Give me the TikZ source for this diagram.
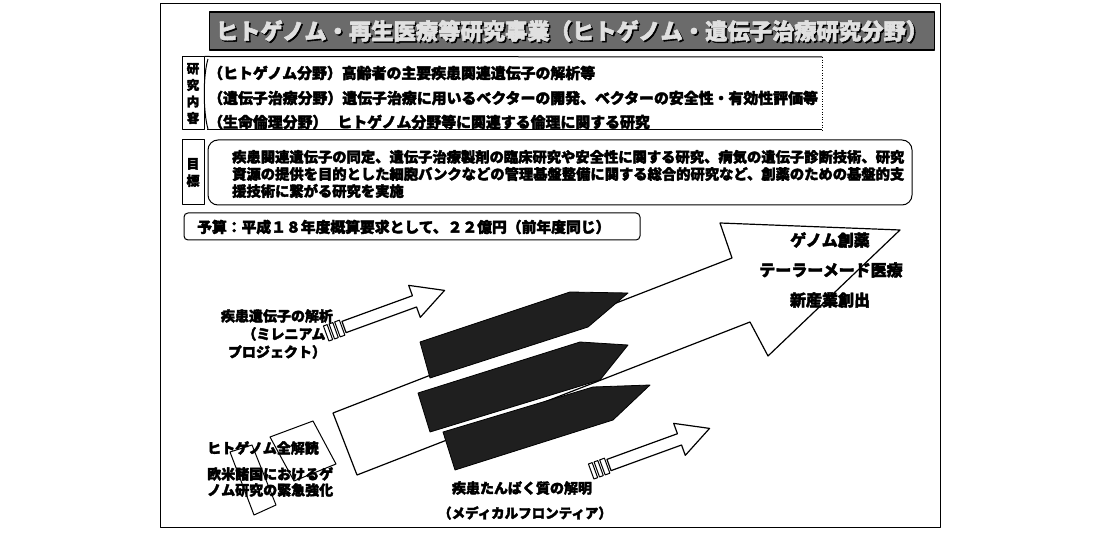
\documentclass[tikz,border=0pt]{standalone}
\usepackage{fontspec}
\newfontfamily\jp{Noto Sans CJK JP}[FakeBold=2.5]
\newcommand\JB{\jp\bfseries}
\begin{document}
\begin{tikzpicture}[x=1pt,y=-1pt,line join=round,
  txt/.style={font=\JB\fontsize{14.9}{16}\selectfont, inner sep=0, anchor=west},
  gtxt/.style={font=\JB\fontsize{14.3}{16}\selectfont, inner sep=0, anchor=west},
  lbl/.style={draw, line width=1, inner sep=0, align=center, minimum width=22pt},
  lab/.style={font=\JB\fontsize{14}{18}\selectfont, inner sep=0, align=center},
  bigt/.style={font=\JB\fontsize{16}{18}\selectfont, inner sep=0},
  darkband/.style={fill=black!88, draw=black, line width=0.8},
  hollow/.style={fill=white, draw=black, line width=1.2},
]
\useasboundingbox (0,0) rectangle (1097,534);
\fill[white] (0,0) rectangle (1097,534);
\draw[line width=0.8] (160,3) rectangle (940,527);

% title
\node[draw, line width=1.2, fill=black!58, minimum width=725pt, minimum height=38pt, inner sep=0] (titlebar) at (572,31) {};
\node[font=\JB\fontsize{22.3}{24}\selectfont, text=black] at (573.5,32.5) {ヒトゲノム・再生医療等研究事業（ヒトゲノム・遺伝子治療研究分野）};
\node[font=\JB\fontsize{22.3}{24}\selectfont, text=black!12] (title) at (572,31) {ヒトゲノム・再生医療等研究事業（ヒトゲノム・遺伝子治療研究分野）};

% research content
\node[lbl, minimum height=73pt, font=\JB\fontsize{12.5}{16.5}\selectfont] (reslabel) at (193,93.5) {研\\究\\内\\容};
\draw[line width=1] (reslabel.north east) -- (822,57);
\draw[line width=1] (207,130) -- (822,130);
\draw[line width=0.6, dotted] (822,57) -- (822,130);
\draw[line width=1] (208,59) .. controls (203,75) and (203,112) .. (208,129);
\node[txt] (r1) at (208,73) {（ヒトゲノム分野）高齢者の主要疾患関連遺伝子の解析等};
\node[txt] (r2) at (208,98) {（遺伝子治療分野）遺伝子治療に用いるベクターの開発、ベクターの安全性・有効性評価等};
\node[txt] (r3) at (208,122) {（生命倫理分野）\hspace{10pt}ヒトゲノム分野等に関連する倫理に関する研究};

% goal
\node[lbl, minimum height=65pt, font=\JB\fontsize{13}{17}\selectfont] (goallabel) at (193,172.5) {目\\標};
\draw[line width=1, rounded corners=10] (208,140) rectangle (912,205);
\node[gtxt] (g1) at (232,157) {疾患関連遺伝子の同定、遺伝子治療製剤の臨床研究や安全性に関する研究、病気の遺伝子診断技術、研究};
\node[gtxt] (g2) at (232,174) {資源の提供を目的とした細胞バンクなどの管理基盤整備に関する総合的研究など、創薬のための基盤的支};
\node[gtxt] (g3) at (232,191) {援技術に繋がる研究を実施};

% budget
\draw[line width=1, rounded corners=4] (184,213) rectangle (640,240);
\node[txt, font=\JB\fontsize{14.8}{16}\selectfont] (budget) at (197,227) {予算：平成１８年度概算要求として、２２億円（前年度同じ）};

% big arrow
\draw[hollow] (333,413) -- (732,258) -- (720,223) -- (900,230) -- (768,356) -- (750,322) -- (357,475) -- cycle;
\draw[darkband] (420,342) -- (570,292) -- (628,293) -- (588,327) -- (430,378) -- cycle;
\draw[darkband] (418,393) -- (580,342) -- (628,345) -- (600,380) -- (430,432) -- cycle;
\draw[darkband] (443,432) -- (593,387) -- (650,385) -- (613,420) -- (455,470) -- cycle;

% small arrow 1
\begin{scope}[shift={(344,327)}, rotate=20]
  \draw[hollow] (0,-6) -- (75,-6) -- (75,-17) -- (107,0) -- (75,17) -- (75,6) -- (0,6) -- cycle;
  \draw[hollow, line width=1] (-7,-8) rectangle (-2,8);
  \draw[hollow, line width=1] (-13,-8) rectangle (-9,8);
  \draw[hollow, line width=1] (-19,-8) rectangle (-15,8);
\end{scope}
% small arrow 2
\begin{scope}[shift={(609,465)}, rotate=20]
  \draw[hollow] (0,-6) -- (75,-6) -- (75,-17) -- (107,0) -- (75,17) -- (75,6) -- (0,6) -- cycle;
  \draw[hollow, line width=1] (-7,-8) rectangle (-2,8);
  \draw[hollow, line width=1] (-13,-8) rectangle (-9,8);
  \draw[hollow, line width=1] (-19,-8) rectangle (-15,8);
\end{scope}

% human genome sketch boxes
\draw[line width=1] (270,437) -- (313,421) -- (336,464) -- (294,481) -- cycle;
\draw[line width=1] (230,452) -- (252,445) -- (276,505) -- (254,515) -- cycle;

% labels
\node[lab] (mill) at (277,334) {疾患遺伝子の解析\\\hspace*{14pt}（ミレニアム\\プロジェクト）};
\node[bigt] (t1) at (830,240) {ゲノム創薬};
\node[bigt] (t2) at (831,270) {テーラーメード医療};
\node[bigt] (t3) at (830,300) {新産業創出};
\node[lab, anchor=west] (hg) at (207,448) {ヒトゲノム全解読};
\node[lab, anchor=north west, align=left, font=\JB\fontsize{14}{16}\selectfont] (eu) at (207,467) {欧米諸国におけるゲ\\ノム研究の緊急強化};
\node[lab] (prot) at (522,488) {疾患たんぱく質の解明};
\node[lab, font=\JB\fontsize{13.5}{16}\selectfont] (mf) at (525,513) {（メディカルフロンティア）};
\end{tikzpicture}
\end{document}
